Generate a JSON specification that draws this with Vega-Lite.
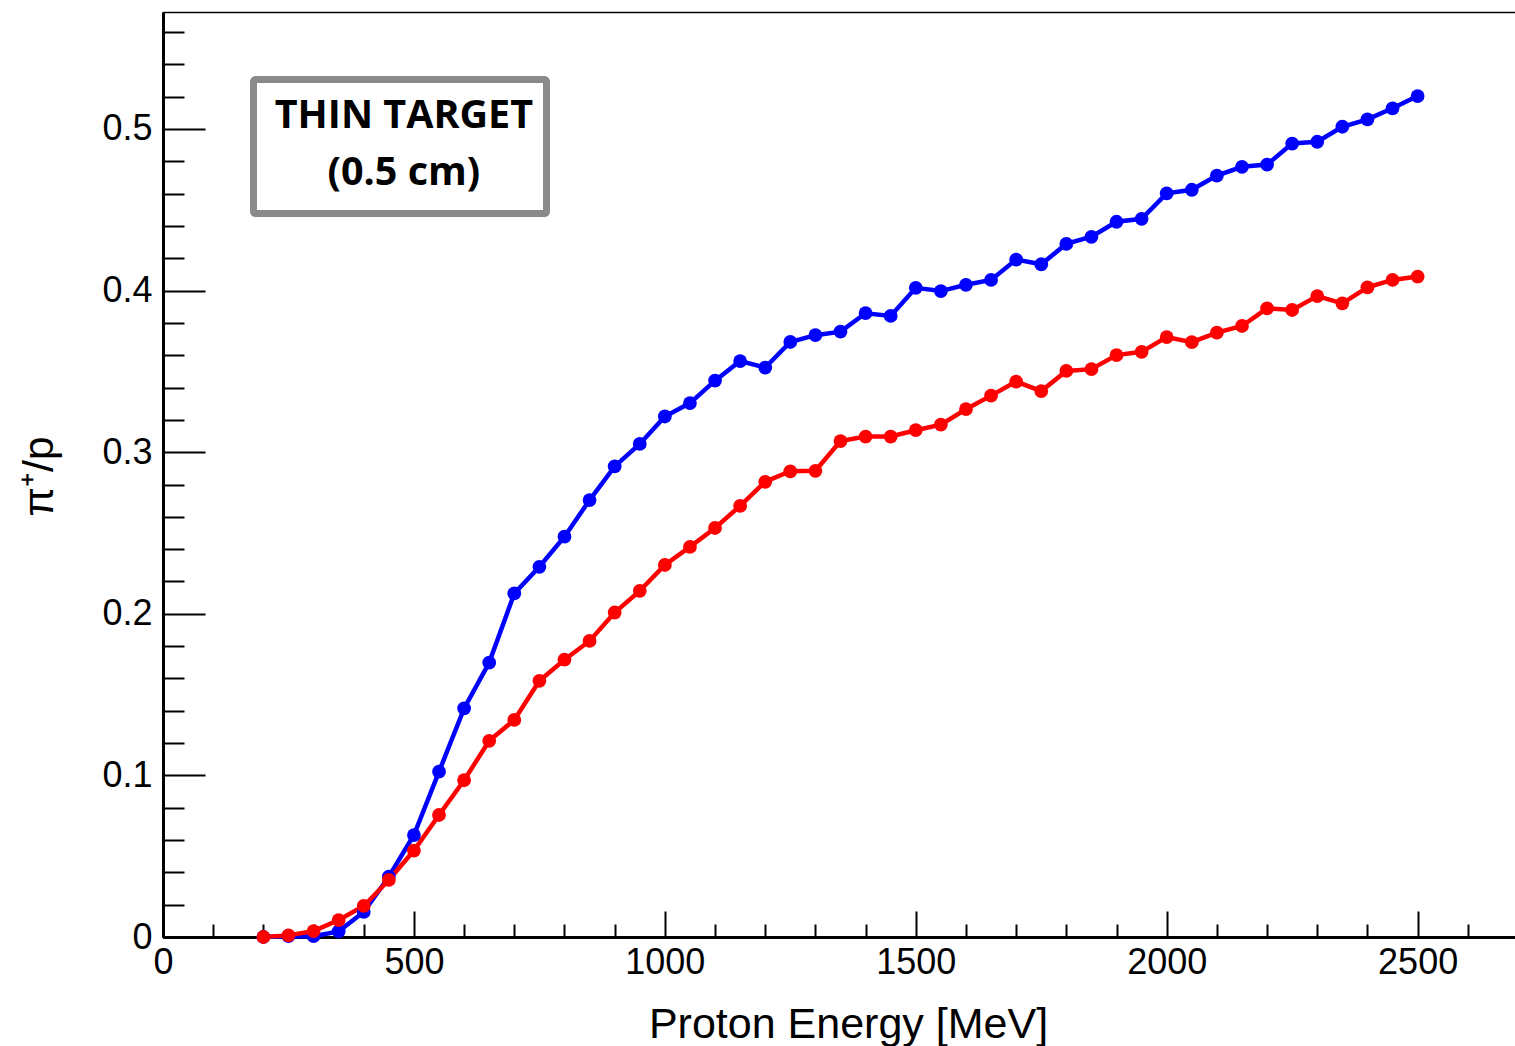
{
  "$schema": "https://vega.github.io/schema/vega-lite/v6.json",
  "width": 1355,
  "height": 925,
  "autosize": {"type": "none"},
  "padding": {"left": 163, "top": 12, "right": 0, "bottom": 109},
  "background": "white",
  "config": {
    "view": {"stroke": null},
    "axis": {
      "labelFont": "Liberation Sans",
      "labelFontSize": 36,
      "labelColor": "black",
      "labelFlush": false,
      "labelOverlap": false,
      "titleFont": "Liberation Sans",
      "titleFontSize": 43,
      "titleFontWeight": "normal",
      "titleColor": "black",
      "tickColor": "black",
      "tickWidth": 2,
      "domainColor": "black",
      "domainWidth": 3,
      "grid": false
    }
  },
  "datasets": {
    "box": [{"x0": 180.3, "x1": 764.2, "y0": 0.5306, "y1": 0.4477}],
    "notes": [
      {"x": 480, "y": 0.5006, "t": "THIN TARGET"},
      {"x": 480, "y": 0.4653, "t": "(0.5 cm)"}
    ],
    "curves": [
      {"series": "series 1", "E": 200, "r": 0.0},
      {"series": "series 1", "E": 250, "r": 0.0005},
      {"series": "series 1", "E": 300, "r": 0.0005},
      {"series": "series 1", "E": 350, "r": 0.0035},
      {"series": "series 1", "E": 400, "r": 0.0155},
      {"series": "series 1", "E": 450, "r": 0.0373},
      {"series": "series 1", "E": 500, "r": 0.0631},
      {"series": "series 1", "E": 550, "r": 0.1023},
      {"series": "series 1", "E": 600, "r": 0.1415},
      {"series": "series 1", "E": 650, "r": 0.1698},
      {"series": "series 1", "E": 700, "r": 0.2126},
      {"series": "series 1", "E": 750, "r": 0.2291},
      {"series": "series 1", "E": 800, "r": 0.2477},
      {"series": "series 1", "E": 850, "r": 0.2704},
      {"series": "series 1", "E": 900, "r": 0.2912},
      {"series": "series 1", "E": 950, "r": 0.3051},
      {"series": "series 1", "E": 1000, "r": 0.3221},
      {"series": "series 1", "E": 1050, "r": 0.3304},
      {"series": "series 1", "E": 1100, "r": 0.3443},
      {"series": "series 1", "E": 1150, "r": 0.3564},
      {"series": "series 1", "E": 1200, "r": 0.3524},
      {"series": "series 1", "E": 1250, "r": 0.3682},
      {"series": "series 1", "E": 1300, "r": 0.3724},
      {"series": "series 1", "E": 1350, "r": 0.3746},
      {"series": "series 1", "E": 1400, "r": 0.386},
      {"series": "series 1", "E": 1450, "r": 0.3843},
      {"series": "series 1", "E": 1500, "r": 0.4017},
      {"series": "series 1", "E": 1550, "r": 0.3997},
      {"series": "series 1", "E": 1600, "r": 0.4036},
      {"series": "series 1", "E": 1650, "r": 0.4066},
      {"series": "series 1", "E": 1700, "r": 0.4192},
      {"series": "series 1", "E": 1750, "r": 0.4163},
      {"series": "series 1", "E": 1800, "r": 0.4289},
      {"series": "series 1", "E": 1850, "r": 0.4333},
      {"series": "series 1", "E": 1900, "r": 0.4426},
      {"series": "series 1", "E": 1950, "r": 0.4444},
      {"series": "series 1", "E": 2000, "r": 0.4602},
      {"series": "series 1", "E": 2050, "r": 0.4624},
      {"series": "series 1", "E": 2100, "r": 0.4712},
      {"series": "series 1", "E": 2150, "r": 0.4766},
      {"series": "series 1", "E": 2200, "r": 0.478},
      {"series": "series 1", "E": 2250, "r": 0.491},
      {"series": "series 1", "E": 2300, "r": 0.4921},
      {"series": "series 1", "E": 2350, "r": 0.5014},
      {"series": "series 1", "E": 2400, "r": 0.506},
      {"series": "series 1", "E": 2450, "r": 0.5128},
      {"series": "series 1", "E": 2500, "r": 0.5204},
      {"series": "series 2", "E": 200, "r": 0.0},
      {"series": "series 2", "E": 250, "r": 0.001},
      {"series": "series 2", "E": 300, "r": 0.0037},
      {"series": "series 2", "E": 350, "r": 0.0105},
      {"series": "series 2", "E": 400, "r": 0.0192},
      {"series": "series 2", "E": 450, "r": 0.0353},
      {"series": "series 2", "E": 500, "r": 0.0535},
      {"series": "series 2", "E": 550, "r": 0.0755},
      {"series": "series 2", "E": 600, "r": 0.097},
      {"series": "series 2", "E": 650, "r": 0.1214},
      {"series": "series 2", "E": 700, "r": 0.1343},
      {"series": "series 2", "E": 750, "r": 0.1585},
      {"series": "series 2", "E": 800, "r": 0.1716},
      {"series": "series 2", "E": 850, "r": 0.1832},
      {"series": "series 2", "E": 900, "r": 0.2008},
      {"series": "series 2", "E": 950, "r": 0.2142},
      {"series": "series 2", "E": 1000, "r": 0.2302},
      {"series": "series 2", "E": 1050, "r": 0.2414},
      {"series": "series 2", "E": 1100, "r": 0.2531},
      {"series": "series 2", "E": 1150, "r": 0.2668},
      {"series": "series 2", "E": 1200, "r": 0.2817},
      {"series": "series 2", "E": 1250, "r": 0.2882},
      {"series": "series 2", "E": 1300, "r": 0.2885},
      {"series": "series 2", "E": 1350, "r": 0.3069},
      {"series": "series 2", "E": 1400, "r": 0.3097},
      {"series": "series 2", "E": 1450, "r": 0.3097},
      {"series": "series 2", "E": 1500, "r": 0.3136},
      {"series": "series 2", "E": 1550, "r": 0.317},
      {"series": "series 2", "E": 1600, "r": 0.3266},
      {"series": "series 2", "E": 1650, "r": 0.335},
      {"series": "series 2", "E": 1700, "r": 0.3437},
      {"series": "series 2", "E": 1750, "r": 0.3378},
      {"series": "series 2", "E": 1800, "r": 0.3503},
      {"series": "series 2", "E": 1850, "r": 0.3514},
      {"series": "series 2", "E": 1900, "r": 0.3601},
      {"series": "series 2", "E": 1950, "r": 0.3621},
      {"series": "series 2", "E": 2000, "r": 0.3712},
      {"series": "series 2", "E": 2050, "r": 0.3681},
      {"series": "series 2", "E": 2100, "r": 0.374},
      {"series": "series 2", "E": 2150, "r": 0.3781},
      {"series": "series 2", "E": 2200, "r": 0.389},
      {"series": "series 2", "E": 2250, "r": 0.388},
      {"series": "series 2", "E": 2300, "r": 0.3966},
      {"series": "series 2", "E": 2350, "r": 0.3921},
      {"series": "series 2", "E": 2400, "r": 0.402},
      {"series": "series 2", "E": 2450, "r": 0.4066},
      {"series": "series 2", "E": 2500, "r": 0.4087}
    ]
  },
  "layer": [
    {
      "data": {"name": "box"},
      "mark": {"type": "rect", "fill": "white", "stroke": "#8a8a8a", "strokeWidth": 7, "cornerRadius": 2},
      "encoding": {
        "x": {"field": "x0", "type": "quantitative", "scale": {"domain": [0, 2700], "nice": false, "zero": false},
              "axis": {"orient": "top", "ticks": false, "labels": false, "title": null, "domainWidth": 1.5}},
        "x2": {"field": "x1"},
        "y": {"field": "y0", "type": "quantitative", "scale": {"domain": [0, 0.5724], "nice": false, "zero": false}, "axis": null},
        "y2": {"field": "y1"}
      }
    },
    {
      "data": {"name": "notes"},
      "mark": {"type": "text", "font": "Open Sans", "fontWeight": "bold", "fontSize": 39.5, "align": "center", "baseline": "alphabetic", "color": "black"},
      "encoding": {
        "x": {"field": "x", "type": "quantitative", "scale": {"domain": [0, 2700], "nice": false, "zero": false}, "axis": null},
        "y": {"field": "y", "type": "quantitative", "scale": {"domain": [0, 0.5724], "nice": false, "zero": false}, "axis": null},
        "text": {"field": "t"}
      }
    },
    {
      "data": {"name": "curves"},
      "mark": {"type": "line", "strokeWidth": 4.5},
      "encoding": {
        "x": {"field": "E", "type": "quantitative", "scale": {"domain": [0, 2700], "nice": false, "zero": false},
              "axis": {"orient": "bottom", "values": [0, 500, 1000, 1500, 2000, 2500], "format": "d", "tickSize": -26, "labelPadding": 34,
                       "title": "Proton Energy [MeV]", "titleX": 685, "titleY": 100, "titleAlign": "center", "titleBaseline": "alphabetic"}},
        "y": {"field": "r", "type": "quantitative", "scale": {"domain": [0, 0.5724], "nice": false, "zero": false},
              "axis": {"orient": "left", "values": [0, 0.1, 0.2, 0.3, 0.4, 0.5], "format": "~g", "tickSize": -42, "labelPadding": 53,
                       "title": "π⁺/p", "titleX": -111, "titleY": 464, "titleAngle": 270, "titleAlign": "center", "titleBaseline": "alphabetic"}},
        "color": {"field": "series", "type": "nominal", "scale": {"domain": ["series 1", "series 2"], "range": ["#0000ff", "#ff0000"]}, "legend": null}
      }
    },
    {
      "data": {"name": "curves"},
      "mark": {"type": "point", "filled": true, "opacity": 1, "size": 190},
      "encoding": {
        "x": {"field": "E", "type": "quantitative", "scale": {"domain": [0, 2700], "nice": false, "zero": false},
              "axis": {"orient": "bottom", "values": [100, 200, 300, 400, 600, 700, 800, 900, 1100, 1200, 1300, 1400, 1600, 1700, 1800, 1900, 2100, 2200, 2300, 2400, 2600],
                       "tickSize": -13, "labels": false, "title": null}},
        "y": {"field": "r", "type": "quantitative", "scale": {"domain": [0, 0.5724], "nice": false, "zero": false},
              "axis": {"orient": "left", "values": [0.02, 0.04, 0.06, 0.08, 0.12, 0.14, 0.16, 0.18, 0.22, 0.24, 0.26, 0.28, 0.32, 0.34, 0.36, 0.38, 0.42, 0.44, 0.46, 0.48, 0.52, 0.54, 0.56],
                       "tickSize": -21, "labels": false, "title": null}},
        "color": {"field": "series", "type": "nominal", "scale": {"domain": ["series 1", "series 2"], "range": ["#0000ff", "#ff0000"]}, "legend": null}
      }
    }
  ],
  "resolve": {"axis": {"x": "independent", "y": "independent"}}
}
